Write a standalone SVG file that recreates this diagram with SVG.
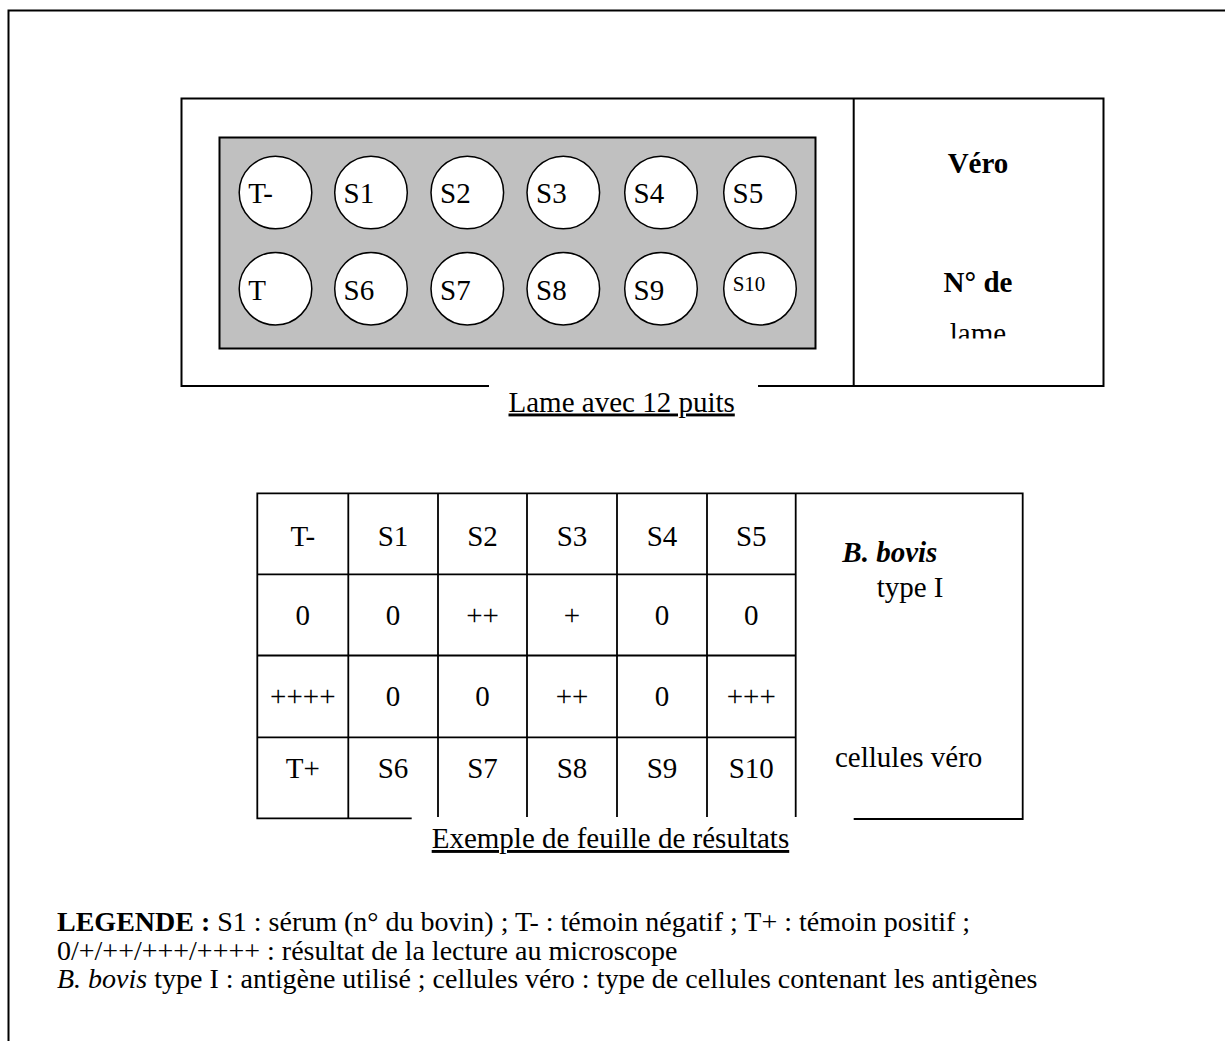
<svg xmlns="http://www.w3.org/2000/svg" width="1225" height="1041" viewBox="0 0 1225 1041">
<style>
text{font-family:"Liberation Serif","Times New Roman",serif;font-size:29px;fill:#000}
.ln{stroke:#000;stroke-width:2;fill:none}
.tl{stroke:#000;stroke-width:1.8;fill:none}
.well{fill:#fff;stroke:#000;stroke-width:1.5}
.c{text-anchor:middle}
.b{font-weight:bold}
.u{text-decoration:underline}
.lg{font-size:28px}
</style>
<defs>
<clipPath id="lameclip"><rect x="860" y="300" width="240" height="38.5"/></clipPath>
</defs>
<rect width="1225" height="1041" fill="#fff"/>
<g id="frame">
<path class="ln" d="M8.5 1041 V10.5 H1225" stroke="#222"/>
</g>
<g id="slide">
<path class="ln" d="M489 386 H181.5 V98.5 H1103.5 V386 H758 M853.7 98.5 V386"/>
<rect x="219.5" y="137.5" width="596" height="211" fill="#c0c0c0" stroke="#000" stroke-width="2"/>
<text class="c b" x="978" y="173">Véro</text>
<text class="c b" x="978" y="291.5">N° de</text>
<text class="c" x="978" y="343" clip-path="url(#lameclip)">lame</text>
<text class="u" x="508.5" y="411.5">Lame avec 12 puits</text>
</g>
<g id="wells">
<g id="well-Tm"><circle class="well" cx="275.5" cy="192.5" r="36.3"/><text x="248.3" y="203">T-</text></g>
<g id="well-S1"><circle class="well" cx="371" cy="192.5" r="36.3"/><text x="343.5" y="203">S1</text></g>
<g id="well-S2"><circle class="well" cx="467.3" cy="192.5" r="36.3"/><text x="440" y="203">S2</text></g>
<g id="well-S3"><circle class="well" cx="563.3" cy="192.5" r="36.3"/><text x="536" y="203">S3</text></g>
<g id="well-S4"><circle class="well" cx="661" cy="192.5" r="36.3"/><text x="633.5" y="203">S4</text></g>
<g id="well-S5"><circle class="well" cx="760" cy="192.5" r="36.3"/><text x="732.5" y="203">S5</text></g>
<g id="well-T"><circle class="well" cx="275.5" cy="288.7" r="36.3"/><text x="248.3" y="300">T</text></g>
<g id="well-S6"><circle class="well" cx="371" cy="288.7" r="36.3"/><text x="343.5" y="300">S6</text></g>
<g id="well-S7"><circle class="well" cx="467.3" cy="288.7" r="36.3"/><text x="440" y="300">S7</text></g>
<g id="well-S8"><circle class="well" cx="563.3" cy="288.7" r="36.3"/><text x="536" y="300">S8</text></g>
<g id="well-S9"><circle class="well" cx="661" cy="288.7" r="36.3"/><text x="633.5" y="300">S9</text></g>
<g id="well-S10"><circle class="well" cx="760" cy="288.7" r="36.3"/><text x="732.7" y="291" style="font-size:21px">S10</text></g>
</g>
<g id="connectors">
<path class="tl" d="M411.7 818.3 H257.3 V493.3 H1022.7 V819 H853.7"/>
<path class="tl" d="M348.3 493.3 V818.3 M438 493.3 V817 M527 493.3 V817 M617 493.3 V817 M707 493.3 V817 M795.7 493.3 V817"/>
<path class="tl" d="M257.3 574.3 H795.7 M257.3 655.5 H795.7 M257.3 737.3 H795.7"/>
</g>
<g id="table">
<g class="c">
<text x="302.8" y="545.5">T-</text><text x="393" y="545.5">S1</text><text x="482.5" y="545.5">S2</text><text x="572" y="545.5">S3</text><text x="662" y="545.5">S4</text><text x="751.3" y="545.5">S5</text>
<text x="302.8" y="625">0</text><text x="393" y="625">0</text><text x="482.5" y="625">++</text><text x="572" y="625">+</text><text x="662" y="625">0</text><text x="751.3" y="625">0</text>
<text x="302.8" y="706">++++</text><text x="393" y="706">0</text><text x="482.5" y="706">0</text><text x="572" y="706">++</text><text x="662" y="706">0</text><text x="751.3" y="706">+++</text>
<text x="302.8" y="778">T+</text><text x="393" y="778">S6</text><text x="482.5" y="778">S7</text><text x="572" y="778">S8</text><text x="662" y="778">S9</text><text x="751.3" y="778">S10</text>
</g>
<text x="842.3" y="561.5" class="b" font-style="italic">B. bovis</text>
<text x="876.7" y="597.3">type I</text>
<text x="835" y="766.5">cellules véro</text>
<text class="u" x="431.7" y="848">Exemple de feuille de résultats</text>
</g>
<g id="legend" class="lg">
<text class="lg" x="57" y="931"><tspan class="b">LEGENDE :</tspan> S1 : sérum (n° du bovin) ; T- : témoin négatif ; T+ : témoin positif ;</text>
<text class="lg" x="57" y="960">0/+/++/+++/++++ : résultat de la lecture au microscope</text>
<text class="lg" x="57" y="988"><tspan font-style="italic">B. bovis</tspan> type I : antigène utilisé ; cellules véro : type de cellules contenant les antigènes</text>
</g>
</svg>
